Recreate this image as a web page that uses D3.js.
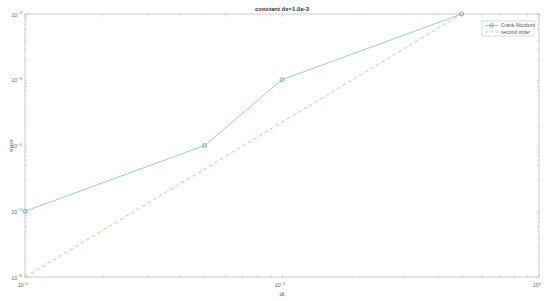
<!DOCTYPE html>
<html>
<head>
<meta charset="utf-8">
<script src="https://cdn.jsdelivr.net/npm/d3@7"></script>
<style>
  body { margin: 0; background: #fff; }
  text { font-family: "Liberation Sans", Arial, sans-serif; }
</style>
</head>
<body>
<div id="chart"></div>
<script>
// data
const dt = [0.01, 0.05, 0.1, 0.5];
const errCN = [1e-5, 1e-4, 1e-3, 1e-2];
const errRef = [1e-6, 4.4e-5, 2.26e-4, 1e-2];
const seriesNames = ["Crank-Nicolson", "second order"];
const xDecades = [-2, -1, 0];
const yDecades = [-6, -5, -4, -3, -2];

const width = 550, height = 301;
const margin = { top: 14, right: 11, bottom: 24, left: 25 };
const innerW = width - margin.left - margin.right;
const innerH = height - margin.top - margin.bottom;

const blue = "#7dbde6", orange = "#f2b08f";
const axisColor = "#bfbfbf", labelColor = "#6e6e6e";

const svg = d3.select("#chart").append("svg")
  .attr("width", width).attr("height", height);
const g = svg.append("g").attr("transform", `translate(${margin.left},${margin.top})`);

const x = d3.scaleLog().domain([1e-2, 1]).range([0, innerW]);
const y = d3.scaleLog().domain([1e-6, 1e-2]).range([innerH, 0]);

// tick lists (major at decades, minor 2..9)
function logTicks(decs) {
  const major = decs.map(d => Math.pow(10, d));
  const minor = [];
  decs.slice(0, -1).forEach(d => {
    for (let k = 2; k <= 9; k++) minor.push(k * Math.pow(10, d));
  });
  return { major, minor };
}
const xt = logTicks(xDecades), yt = logTicks(yDecades);

// axes box with inward ticks on all sides
function drawAxis(axisFn, scale, ticks, len, transform) {
  const a = g.append("g").attr("transform", transform)
    .call(axisFn(scale).tickValues(ticks).tickSize(-len).tickFormat(""));
  a.select(".domain").remove();
  a.selectAll("line").attr("stroke", axisColor).attr("stroke-width", 0.6);
}
drawAxis(d3.axisBottom, x, xt.major, 3, `translate(0,${innerH})`);
drawAxis(d3.axisBottom, x, xt.minor, 2.5, `translate(0,${innerH})`);
drawAxis(d3.axisTop, x, xt.major, 3, `translate(0,0)`);
drawAxis(d3.axisTop, x, xt.minor, 2.5, `translate(0,0)`);
drawAxis(d3.axisLeft, y, yt.major, 3, `translate(0,0)`);
drawAxis(d3.axisLeft, y, yt.minor, 2, `translate(0,0)`);
drawAxis(d3.axisRight, y, yt.major, 3, `translate(${innerW},0)`);
drawAxis(d3.axisRight, y, yt.minor, 2, `translate(${innerW},0)`);

g.append("rect").attr("width", innerW).attr("height", innerH)
  .attr("fill", "none").attr("stroke", axisColor).attr("stroke-width", 0.8);

// tick labels 10^n
function powLabel(sel, exp) {
  sel.append("tspan").text("10");
  sel.append("tspan").attr("dy", -2.5).attr("font-size", 4).text(exp);
}
xDecades.forEach(d => {
  const t = g.append("text").attr("x", x(Math.pow(10, d)) - 2).attr("y", innerH + 10)
    .attr("text-anchor", "middle").attr("font-size", 5.5).attr("fill", labelColor);
  powLabel(t, d === 0 ? "0" : "\u2212" + (-d));
});
yDecades.forEach(d => {
  const t = g.append("text").attr("x", -3).attr("y", y(Math.pow(10, d)) + 2.5)
    .attr("text-anchor", "end").attr("font-size", 5.5).attr("fill", labelColor);
  powLabel(t, "\u2212" + (-d));
});

// series
const line = d3.line().x(d => x(d[0])).y(d => y(d[1]));
const cnData = dt.map((d, i) => [d, errCN[i]]);
const refData = dt.map((d, i) => [d, errRef[i]]);

g.append("path").datum(refData).attr("d", line)
  .attr("fill", "none").attr("stroke", orange).attr("stroke-width", 0.9)
  .attr("stroke-dasharray", "4,2.5");
g.append("path").datum(cnData).attr("d", line)
  .attr("fill", "none").attr("stroke", blue).attr("stroke-width", 0.8);
g.selectAll(".pt").data(cnData).join("circle").attr("class", "pt")
  .attr("cx", d => x(d[0])).attr("cy", d => y(d[1])).attr("r", 2)
  .attr("fill", "none").attr("stroke", "#4a9fd8").attr("stroke-width", 0.8);

// title and axis labels
svg.append("text").attr("x", margin.left + innerW / 2).attr("y", 11)
  .attr("text-anchor", "middle").attr("font-size", 6).attr("font-weight", "bold")
  .attr("fill", "#333").text("constant dx=1.0e-3");
svg.append("text").attr("x", margin.left + innerW / 2).attr("y", 296)
  .attr("text-anchor", "middle").attr("font-size", 6).attr("fill", "#555").text("dt");
svg.append("text").attr("transform", `translate(13,${margin.top + innerH / 2}) rotate(-90)`)
  .attr("text-anchor", "middle").attr("font-size", 6).attr("fill", "#555").text("error");

// legend
const lg = svg.append("g").attr("transform", "translate(482,21)");
lg.append("rect").attr("width", 52).attr("height", 15)
  .attr("fill", "#fff").attr("stroke", axisColor).attr("stroke-width", 0.6);
seriesNames.forEach((name, i) => {
  const yy = 4.5 + i * 6.5;
  const ln = lg.append("line").attr("x1", 3).attr("x2", 16).attr("y1", yy).attr("y2", yy)
    .attr("stroke", i === 0 ? blue : orange).attr("stroke-width", 0.8);
  if (i === 1) ln.attr("stroke-dasharray", "3,2");
  else lg.append("circle").attr("cx", 9.5).attr("cy", yy).attr("r", 1.8)
    .attr("fill", "none").attr("stroke", "#4a9fd8").attr("stroke-width", 0.8);
  lg.append("text").attr("x", 19).attr("y", yy + 1.8).attr("font-size", 5)
    .attr("fill", "#555").text(name);
});
</script>
</body>
</html>
